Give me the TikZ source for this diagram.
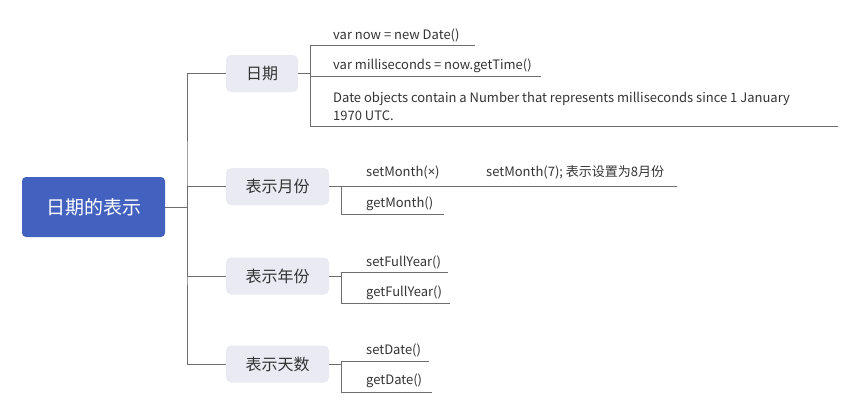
\documentclass[tikz,border=0pt]{standalone}
\usepackage{fontspec}
\usepackage{tikz}
\newfontfamily\cjk{Noto Sans CJK SC}
\newfontfamily\latin{Noto Sans}
\definecolor{rootblue}{HTML}{4361BE}
\definecolor{topicgray}{HTML}{E9EAF2}
\definecolor{linegray}{HTML}{6E6E6E}
\definecolor{textgray}{HTML}{333333}
\tikzset{
    rootbox/.style={fill=rootblue, rounded corners=4pt, text=white,
        minimum width=143pt, minimum height=60pt, font=\cjk\fontsize{19}{21}\selectfont},
    topic/.style={fill=topicgray, rounded corners=5pt, text=textgray,
        minimum height=37pt, font=\cjk\fontsize{16}{18}\selectfont},
    leaf/.style={anchor=west, inner sep=0pt, text=textgray, align=left,
        font=\cjk\fontsize{13}{18}\selectfont},
    link/.style={draw=linegray, line width=0.8pt},
}

\begin{document}
\begin{tikzpicture}[x=1pt, y=-1pt]
    \useasboundingbox (0,0) rectangle (859,413);

    % Central topic
    \node[rootbox] (root) at (93.5,207) {日期的表示};

    % Main topics
    \node[topic, minimum width=72pt] (riqi) at (262,73.5) {日期};
    \node[topic, minimum width=103pt] (yue) at (277.5,186.5) {表示月份};
    \node[topic, minimum width=103pt] (nian) at (277.5,276) {表示年份};
    \node[topic, minimum width=103pt] (tian) at (277.5,364) {表示天数};

    % Trunk
    \coordinate (trunk) at (187,207);
    \draw[link] (root.east) -- (trunk);
    \draw[link] (riqi.west) -| (trunk) |- (tian.west);
    \draw[link] (trunk) |- (yue.west);
    \draw[link] (trunk) |- (nian.west);

    % Branch: 日期
    \coordinate (v1) at (310,73.5);
    \coordinate (u11) at (475,45);
    \coordinate (u12) at (541,76);
    \coordinate (u13) at (838,126);
    \draw[link] (riqi.east) -- (v1);
    \draw[link] (v1) |- (u11);
    \draw[link] (v1) |- (u12);
    \draw[link] (v1) |- (u13);
    \node[leaf] (now) at (333,35) {var now = new Date()};
    \node[leaf] (msec) at (333,66) {var milliseconds = now.getTime()};
    \node[leaf] (note) at (333,106) {Date objects contain a Number that represents milliseconds since 1 January\\1970 UTC.};

    % Branch: 表示月份
    \coordinate (v2) at (341.5,186.5);
    \coordinate (u21) at (471,186.5);
    \coordinate (u22) at (677,186.5);
    \coordinate (u23) at (444,214);
    \draw[link] (yue.east) -- (v2);
    \draw[link] (v2) |- (u21) -- (u22);
    \draw[link] (v2) |- (u23);
    \node[leaf] (setm) at (366,172) {setMonth({\latin ×})};
    \node[leaf] (setm7) at (486,172) {setMonth(7); 表示设置为8月份};
    \node[leaf] (getm) at (366,204) {getMonth()};

    % Branch: 表示年份
    \coordinate (v3) at (341.5,276);
    \coordinate (u31) at (448,272);
    \coordinate (u32) at (450,303);
    \draw[link] (nian.east) -- (v3);
    \draw[link] (v3) |- (u31);
    \draw[link] (v3) |- (u32);
    \node[leaf] (sety) at (366,262) {setFullYear()};
    \node[leaf] (gety) at (366,293) {getFullYear()};

    % Branch: 表示天数
    \coordinate (v4) at (341.5,364);
    \coordinate (u41) at (429,361);
    \coordinate (u42) at (432,392);
    \draw[link] (tian.east) -- (v4);
    \draw[link] (v4) |- (u41);
    \draw[link] (v4) |- (u42);
    \node[leaf] (setd) at (366,350) {setDate()};
    \node[leaf] (getd) at (366,381) {getDate()};

\end{tikzpicture}
\end{document}
